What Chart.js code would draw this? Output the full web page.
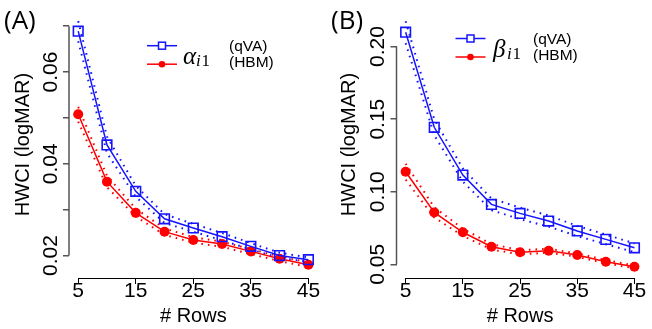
<!DOCTYPE html>
<html>
<head>
<meta charset="utf-8">
<script src="https://cdn.jsdelivr.net/npm/chart.js@4.4.1/dist/chart.umd.min.js"></script>
<style>
  body { margin: 0; background: #fff; }
  .panel { position: absolute; top: 0; width: 326px; height: 329px; }
</style>
</head>
<body>
<div class="panel" style="left:0"><canvas id="chartA" width="326" height="329"></canvas></div>
<div class="panel" style="left:326px"><canvas id="chartB" width="326" height="329"></canvas></div>
<script>
// --- data ---
const rows = [5, 10, 15, 20, 25, 30, 35, 40, 45];
const xTicks = [5, 15, 25, 35, 45];

// (A) alpha_i1
const alphaQva   = [0.0689, 0.0441, 0.0340, 0.0280, 0.0260, 0.0241, 0.0220, 0.0200, 0.0191];
const alphaQvaHi = [0.0711, 0.0459, 0.0352, 0.0290, 0.0269, 0.0249, 0.0227, 0.0206, 0.0196];
const alphaQvaLo = [0.0667, 0.0423, 0.0328, 0.0271, 0.0252, 0.0233, 0.0213, 0.0195, 0.0186];
const alphaHbm   = [0.0508, 0.0361, 0.0293, 0.0252, 0.0234, 0.0225, 0.0209, 0.0193, 0.0180];
const alphaHbmHi = [0.0524, 0.0374, 0.0302, 0.0259, 0.0240, 0.0230, 0.0214, 0.0198, 0.0185];
const alphaHbmLo = [0.0492, 0.0349, 0.0285, 0.0245, 0.0228, 0.0219, 0.0203, 0.0188, 0.0175];

// (B) beta_i1
const betaQva   = [0.2099, 0.1444, 0.1115, 0.0913, 0.0851, 0.0798, 0.0730, 0.0672, 0.0614];
const betaQvaHi = [0.2174, 0.1499, 0.1160, 0.0953, 0.0891, 0.0836, 0.0765, 0.0705, 0.0644];
const betaQvaLo = [0.2024, 0.1389, 0.1070, 0.0873, 0.0811, 0.0760, 0.0695, 0.0639, 0.0584];
const betaHbm   = [0.1138, 0.0858, 0.0721, 0.0621, 0.0583, 0.0594, 0.0564, 0.0518, 0.0483];
const betaHbmHi = [0.1193, 0.0893, 0.0746, 0.0639, 0.0598, 0.0607, 0.0576, 0.0529, 0.0493];
const betaHbmLo = [0.1083, 0.0823, 0.0696, 0.0603, 0.0568, 0.0581, 0.0552, 0.0507, 0.0473];

const yTicksA = [0.02, 0.03, 0.04, 0.05, 0.06, 0.07];
const yLabelsA = ['0.02', '0.04', '0.06'];
const yTicksB = [0.05, 0.10, 0.15, 0.20];
const yLabelsB = ['0.05', '0.10', '0.15', '0.20'];

const SANS = '"Liberation Sans", Arial, sans-serif';
const BLUE = '#1414ff';
const RED = '#ff0000';

function pts(arr) {
    return rows.map((r, i) => ({ x: r, y: arr[i] }));
}

function dotted(arr, color) {
    return { data: pts(arr), borderColor: color, borderWidth: 2, borderDash: [1.6, 5], pointRadius: 0, tension: 0, fill: false };
}

// panel letter, legend and R-style axis lines
function decorations(cfg) {
    return {
        id: 'decor' + cfg.letter,
        afterDraw(chart) {
            const { ctx, chartArea, scales } = chart;
            ctx.save();

            // axis lines only between first and last tick, like R
            ctx.strokeStyle = '#000';
            ctx.lineWidth = 1;
            const xa = scales.x.getPixelForValue(xTicks[0]);
            const xb = scales.x.getPixelForValue(xTicks[xTicks.length - 1]);
            const yb = Math.round(chartArea.bottom) + 0.5;
            ctx.beginPath(); ctx.moveTo(xa, yb); ctx.lineTo(xb, yb); ctx.stroke();

            ctx.strokeStyle = '#555';
            ctx.lineWidth = 1.5;
            const ya = scales.y.getPixelForValue(cfg.yTicks[0]);
            const yc = scales.y.getPixelForValue(cfg.yTicks[cfg.yTicks.length - 1]);
            ctx.beginPath(); ctx.moveTo(chartArea.left, ya); ctx.lineTo(chartArea.left, yc); ctx.stroke();

            // (A) / (B)
            ctx.fillStyle = '#000';
            ctx.font = '26px "Open Sans", sans-serif';
            ctx.textAlign = 'left';
            ctx.textBaseline = 'middle';
            ctx.fillText('(' + cfg.letter + ')', cfg.letterX, 22);

            // legend
            const lg = cfg.legend;
            const mx = lg.lx + 15;
            ctx.lineWidth = 1.5;
            ctx.strokeStyle = BLUE;
            ctx.beginPath(); ctx.moveTo(lg.lx, lg.ly); ctx.lineTo(lg.lx + 30, lg.ly); ctx.stroke();
            ctx.fillStyle = '#fff';
            ctx.fillRect(mx - 3.5, lg.ly - 3.5, 7, 7);
            ctx.strokeRect(mx - 3.5, lg.ly - 3.5, 7, 7);
            const ry = lg.ly + 18.5;
            ctx.strokeStyle = RED;
            ctx.beginPath(); ctx.moveTo(lg.lx, ry); ctx.lineTo(lg.lx + 30, ry); ctx.stroke();
            ctx.fillStyle = RED;
            ctx.beginPath(); ctx.arc(mx, ry, 3.3, 0, Math.PI * 2); ctx.fill();

            // math symbol with subscript
            ctx.fillStyle = '#000';
            ctx.textBaseline = 'alphabetic';
            ctx.font = 'italic 25px "Liberation Serif", serif';
            ctx.fillText(cfg.symbol, lg.sx, ry);
            ctx.font = 'italic 17px "Liberation Serif", serif';
            ctx.fillText('i', lg.sx + lg.sub, ry + 2);
            ctx.font = '17px "Liberation Serif", serif';
            ctx.fillText('1', lg.sx + lg.sub + 5.5, ry + 2);

            ctx.font = '15.5px ' + SANS;
            ctx.textBaseline = 'middle';
            ctx.fillText('(qVA)', lg.tx, lg.ly + 1);
            ctx.fillText('(HBM)', lg.tx, ry - 1);
            ctx.restore();
        }
    };
}

function makePanel(id, cfg) {
    const ctx = document.getElementById(id).getContext('2d');
    return new Chart(ctx, {
        type: 'line',
        data: {
            datasets: [
                { data: pts(cfg.qva), borderColor: BLUE, borderWidth: 1.5, tension: 0,
                  pointStyle: 'rect', pointRadius: 6.8, pointBorderWidth: 1.6,
                  pointBorderColor: BLUE, pointBackgroundColor: 'rgba(0,0,0,0)' },
                { data: pts(cfg.hbm), borderColor: RED, borderWidth: 1.5, tension: 0,
                  pointStyle: 'circle', pointRadius: 5, pointBorderWidth: 0,
                  pointBackgroundColor: RED },
                dotted(cfg.qvaHi, BLUE),
                dotted(cfg.qvaLo, BLUE),
                dotted(cfg.hbmHi, RED),
                dotted(cfg.hbmLo, RED)
            ]
        },
        options: {
            responsive: false,
            devicePixelRatio: 1,
            animation: false,
            layout: { padding: { left: 0, right: cfg.right, top: 11, bottom: 0 } },
            plugins: { legend: { display: false }, tooltip: { enabled: false } },
            scales: {
                x: {
                    type: 'linear', min: 3.4, max: 46.6,
                    afterBuildTicks: s => { s.ticks = xTicks.map(v => ({ value: v })); },
                    afterFit: s => { s.height = 51; },
                    ticks: { color: '#000', font: { family: SANS, size: 21 }, padding: -5,
                             maxRotation: 0, autoSkip: false, callback: v => String(v) },
                    grid: { drawOnChartArea: false, tickLength: 6, color: '#000', lineWidth: 1 },
                    border: { display: false },
                    title: { display: true, text: '# Rows', color: '#000',
                             font: { family: SANS, size: 20 }, padding: { top: 0, bottom: 1 } }
                },
                y: {
                    type: 'linear', min: cfg.yMin, max: cfg.yMax,
                    afterBuildTicks: s => { s.ticks = cfg.yTicks.map(v => ({ value: v })); },
                    afterFit: s => { s.width = cfg.left; },
                    ticks: { color: '#000', font: { family: SANS, size: 21 }, minRotation: 90, maxRotation: 90,
                             crossAlign: 'center', padding: cfg.tickPad, autoSkip: false,
                             callback: v => { const t = v.toFixed(2); return cfg.yLabels.includes(t) ? t : ''; } },
                    grid: { drawOnChartArea: false, tickLength: 6, color: '#555', lineWidth: 1.5 },
                    border: { display: false },
                    title: { display: true, text: 'HWCI (logMAR)', color: '#000',
                             font: { family: SANS, size: 20 }, padding: { top: 11, bottom: 0 } }
                }
            }
        },
        plugins: [decorations(cfg)]
    });
}

makePanel('chartA', {
    letter: 'A', letterX: 4, symbol: 'α',
    qva: alphaQva, qvaHi: alphaQvaHi, qvaLo: alphaQvaLo,
    hbm: alphaHbm, hbmHi: alphaHbmHi, hbmLo: alphaHbmLo,
    yMin: 0.0151, yMax: 0.0733, yTicks: yTicksA, yLabels: yLabelsA,
    left: 69, right: 4.5, tickPad: -9,
    legend: { lx: 147, ly: 45.7, sx: 183, sub: 13, tx: 229 }
});

makePanel('chartB', {
    letter: 'B', letterX: 5, symbol: 'β',
    qva: betaQva, qvaHi: betaQvaHi, qvaLo: betaQvaLo,
    hbm: betaHbm, hbmHi: betaHbmHi, hbmLo: betaHbmLo,
    yMin: 0.0406, yMax: 0.2245, yTicks: yTicksB, yLabels: yLabelsB,
    left: 70.5, right: 3.4, tickPad: -8,
    legend: { lx: 129.5, ly: 38.5, sx: 167, sub: 14, tx: 207 }
});
</script>
</body>
</html>
